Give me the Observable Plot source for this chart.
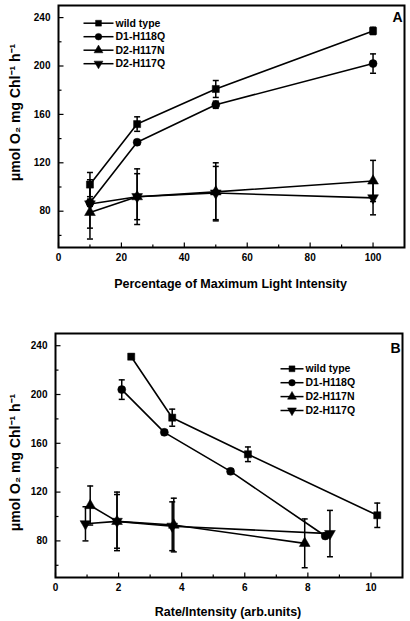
<!DOCTYPE html>
<html>
<head>
<meta charset="utf-8">
<script src="https://cdn.jsdelivr.net/npm/d3@7"></script>
<script src="https://cdn.jsdelivr.net/npm/@observablehq/plot@0.6"></script>
<style>
  html, body { margin: 0; padding: 0; background: white; }
  #chart svg { display: block; }
</style>
</head>
<body>
<div id="chart"></div>
<script>
// ---------- data ----------
const seriesNames = ["wild type", "D1-H118Q", "D2-H117N", "D2-H117Q"];

// Panel A: % of maximum light intensity
const intensityA = [10, 25, 50, 100];
const wildA   = [102, 152, 181, 229];
const wildErrA = [10, 6, 7, 3];
const d1A     = [87, 137, 168, 202];
const d1ErrA  = [3, 2, 3, 8];
const d2nA    = [79, 92, 96, 105];
const d2nErrA = [22, 23, 24, 17];
const d2qA    = [86, 92, 95, 91];
const d2qErrA = [20, 19, 22, 14];

// Panel B: rate / intensity
const wildXB   = [10.2, 6.1, 3.7, 2.4];
const wildB    = [101, 151, 181, 231];
const wildErrB = [10, 6, 7, 2];
const d1XB     = [8.55, 5.55, 3.45, 2.1];
const d1B      = [84, 137, 169, 204];
const d1ErrB   = [2, 2, 2, 8];
const d2nXB    = [7.9, 3.75, 1.95, 1.1];
const d2nB     = [78, 93, 96, 109];
const d2nErrB  = [20, 22, 24, 16];
const d2qXB    = [8.7, 3.7, 1.95, 0.95];
const d2qB     = [86, 92, 96, 94];
const d2qErrB  = [19, 20, 22, 14];

const xTicksA = [0, 20, 40, 60, 80, 100];
const xMinorA = [10, 30, 50, 70, 90];
const xTicksB = [0, 2, 4, 6, 8, 10];
const xMinorB = [1, 3, 5, 7, 9];
const yTicks = [80, 120, 160, 200, 240];
const yMinor = [60, 100, 140, 180, 220];

const yTitle = "μmol O₂ mg Chl⁻¹ h⁻¹";
const xTitleA = "Percentage of Maximum Light Intensity";
const xTitleB = "Rate/Intensity (arb.units)";

// ---------- symbols ----------
const sqrt3 = Math.sqrt(3);
const triangleDown = {
  draw(ctx, size) {
    const y = Math.sqrt(size / (sqrt3 * 3));
    ctx.moveTo(0, y * 2);
    ctx.lineTo(-sqrt3 * y, -y);
    ctx.lineTo(sqrt3 * y, -y);
    ctx.closePath();
  }
};
const symbols = ["square", "circle", "triangle", triangleDown];
const hLine = (len) => ({ draw(ctx) { ctx.moveTo(-len, 0); ctx.lineTo(len, 0); } });
const tickRight = (len) => ({ draw(ctx) { ctx.moveTo(0, 0); ctx.lineTo(len, 0); } });
const tickUp = (len) => ({ draw(ctx) { ctx.moveTo(0, 0); ctx.lineTo(0, -len); } });

const rows = (xs, ys, es) => xs.map((x, i) => ({ x, y: ys[i], e: es[i] })).sort((a, b) => a.x - b.x);

function seriesMarks(data, symbol) {
  return [
    Plot.ruleX(data, { x: "x", y1: d => d.y - d.e, y2: d => d.y + d.e, stroke: "black", strokeWidth: 1.5 }),
    Plot.dot(data, { x: "x", y: d => d.y + d.e, symbol: hLine(3), fill: "none", stroke: "black", strokeWidth: 1.5 }),
    Plot.dot(data, { x: "x", y: d => d.y - d.e, symbol: hLine(3), fill: "none", stroke: "black", strokeWidth: 1.5 }),
    Plot.line(data, { x: "x", y: "y", stroke: "black", strokeWidth: 1.6 }),
    Plot.dot(data, { x: "x", y: "y", symbol, r: 4, fill: "black", stroke: "black", strokeWidth: 0.5 })
  ];
}

function legendMarks(dx0, dy0, step, half, textDx) {
  const m = [];
  seriesNames.forEach((name, i) => {
    const dy = dy0 + i * step;
    m.push(Plot.dot([0], { frameAnchor: "top-left", dx: dx0, dy, symbol: hLine(half), fill: "none", stroke: "black", strokeWidth: 1.5 }));
    m.push(Plot.dot([0], { frameAnchor: "top-left", dx: dx0, dy, symbol: symbols[i], r: 3.3, fill: "black", stroke: "black", strokeWidth: 0.5 }));
    m.push(Plot.text([name], { frameAnchor: "top-left", dx: textDx, dy, textAnchor: "start", lineAnchor: "middle", fontSize: 10.5, fontWeight: "bold" }));
  });
  return m;
}

function panel(cfg) {
  return Plot.plot({
    width: 410,
    height: cfg.height,
    marginLeft: cfg.ml, marginRight: cfg.mr, marginTop: cfg.mt, marginBottom: cfg.mb,
    x: { domain: cfg.xDomain },
    y: { domain: [50, 250] },
    style: { fontFamily: "'Liberation Sans', Arial, sans-serif", fontWeight: "bold", fontSize: "10px", color: "black", background: "white" },
    marks: [
      Plot.axisX({ ticks: cfg.xTicks, tickSize: 0, tickPadding: 6, label: null, fontWeight: "bold" }),
      Plot.axisY({ ticks: yTicks, tickSize: 0, tickPadding: 8, label: null, fontWeight: "bold" }),
      Plot.dot(cfg.xTicks, { x: d => d, y: 50, symbol: tickUp(5), fill: "none", stroke: "black", strokeWidth: 1.2 }),
      Plot.dot(cfg.xMinor, { x: d => d, y: 50, symbol: tickUp(3), fill: "none", stroke: "black", strokeWidth: 1.2 }),
      Plot.dot(yTicks, { x: cfg.xDomain[0], y: d => d, symbol: tickRight(5), fill: "none", stroke: "black", strokeWidth: 1.2 }),
      Plot.dot(yMinor, { x: cfg.xDomain[0], y: d => d, symbol: tickRight(3), fill: "none", stroke: "black", strokeWidth: 1.2 }),
      ...cfg.series.flatMap((d, i) => seriesMarks(d, symbols[i])),
      ...legendMarks(...cfg.legend),
      Plot.text([cfg.letter], { frameAnchor: "top-right", dx: -7, dy: cfg.letterDy, textAnchor: "middle", lineAnchor: "middle", fontSize: 14, fontWeight: "bold" }),
      Plot.text([yTitle], { frameAnchor: "left", dx: cfg.yTitleDx, dy: cfg.yTitleDy, rotate: -90, textAnchor: "middle", lineAnchor: "middle", fontSize: 14, fontWeight: "bold" }),
      Plot.text([cfg.xTitle], { frameAnchor: "bottom", dx: -1, dy: cfg.xTitleDy, textAnchor: "middle", lineAnchor: "middle", fontSize: 12.5, fontWeight: "bold" }),
      Plot.frame({ stroke: "black", strokeWidth: 2 })
    ]
  });
}

const chartA = panel({
  height: 300, ml: 58, mr: 6, mt: 5, mb: 53,
  xDomain: [0, 110], xTicks: xTicksA, xMinor: xMinorA,
  series: [rows(intensityA, wildA, wildErrA), rows(intensityA, d1A, d1ErrA), rows(intensityA, d2nA, d2nErrA), rows(intensityA, d2qA, d2qErrA)],
  legend: [40, 17.7, 13.5, 15, 57],
  letter: "A", letterDy: 12,
  yTitleDx: -43, yTitleDy: -14,
  xTitle: xTitleA, xTitleDy: 36
});

const chartB = panel({
  height: 321, ml: 55, mr: 8, mt: 33, mb: 44,
  xDomain: [0, 11], xTicks: xTicksB, xMinor: xMinorB,
  series: [rows(wildXB, wildB, wildErrB), rows(d1XB, d1B, d1ErrB), rows(d2nXB, d2nB, d2nErrB), rows(d2qXB, d2qB, d2qErrB)],
  legend: [236.5, 35.3, 13.9, 11.5, 250],
  letter: "B", letterDy: 15,
  yTitleDx: -40, yTitleDy: 7,
  xTitle: xTitleB, xTitleDy: 34.7
});

document.getElementById("chart").append(chartA, chartB);
</script>
</body>
</html>
